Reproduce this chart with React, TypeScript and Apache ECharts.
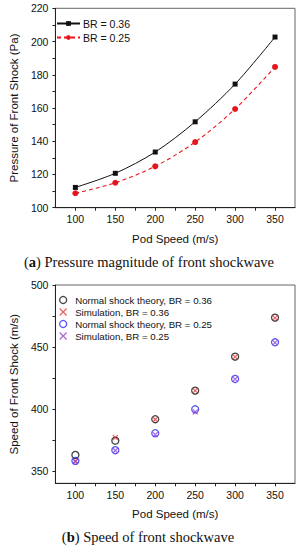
import React, { useEffect, useRef } from "react";
import * as echarts from "echarts";

const podSpeed = [100, 150, 200, 250, 300, 350];
const pressureBR036 = [112.2, 120.7, 133.5, 151.7, 174.4, 202.7];
const pressureBR025 = [108.7, 115.0, 124.9, 139.5, 159.4, 184.7];

const theoryBR036 = [362.9, 374.4, 391.7, 414.8, 442.2, 473.7];
const simBR036 = [358.0, 376.9, 391.5, 414.8, 442.0, 473.5];
const theoryBR025 = [358.1, 366.7, 380.4, 399.7, 424.2, 453.8];
const simBR025 = [357.5, 366.5, 379.3, 397.6, 424.0, 453.5];

const xLabels = [100, 150, 200, 250, 300, 350];
const xTicks = [100, 125, 150, 175, 200, 225, 250, 275, 300, 325, 350];
const yTopLabels = [100, 120, 140, 160, 180, 200, 220];
const yTopTicks = [100, 110, 120, 130, 140, 150, 160, 170, 180, 190, 200, 210, 220];
const yBotLabels = [350, 400, 450, 500];
const yBotTicks = [350, 375, 400, 425, 450, 475, 500];

const FONT = "Liberation Sans, Arial, sans-serif";
const AX = "#222";
const RED = "#e8141c";
const RED_X = "#e23a3a";
const BLUE = "#2a2af0";
const PURPLE = "#9a3ed0";
const CROSS = "path://M0,0L10,10M0,10L10,0";

const pair = (xs: number[], ys: number[]) => xs.map((x, i) => [x, ys[i]]);

export default function App() {
  const ref = useRef<HTMLDivElement>(null);
  useEffect(() => {
    if (!ref.current) return;
    const chart = echarts.init(ref.current, undefined, { renderer: "svg" });
    const xAxisBase = (gridIndex: number) => ({
      type: "value",
      gridIndex,
      min: 75,
      max: 375,
      name: "Pod Speed (m/s)",
      nameLocation: "middle",
      nameGap: 25,
      nameTextStyle: { fontFamily: FONT, fontSize: 11.5, color: "#111" },
      axisLine: { show: true, lineStyle: { color: AX, width: 1 } },
      axisTick: { show: true, inside: false, length: 3, customValues: xTicks, lineStyle: { color: AX } },
      axisLabel: { customValues: xLabels, margin: 6, fontFamily: FONT, fontSize: 10.5, color: "#111" },
      splitLine: { show: false },
    });
    const option: any = {
      animation: false,
      grid: [
        { left: 45, right: 3, top: 8.3, bottom: 342.3, show: true, borderColor: "#666", borderWidth: 1 },
        { left: 45, right: 3, top: 285, bottom: 66.7, show: true, borderColor: "#666", borderWidth: 1 },
      ],
      xAxis: [xAxisBase(0), xAxisBase(1)],
      yAxis: [
        {
          type: "value",
          gridIndex: 0,
          min: 100,
          max: 220,
          name: "Pressure of Front Shock (Pa)",
          nameLocation: "middle",
          nameGap: 33,
          nameTextStyle: { fontFamily: FONT, fontSize: 11.5, color: "#111" },
          axisLine: { show: true, lineStyle: { color: AX, width: 1 } },
          axisTick: { show: true, length: 3, customValues: yTopTicks, lineStyle: { color: AX } },
          axisLabel: { customValues: yTopLabels, margin: 7, fontFamily: FONT, fontSize: 10.5, color: "#111" },
          splitLine: { show: false },
        },
        {
          type: "value",
          gridIndex: 1,
          min: 340,
          max: 500,
          name: "Speed of Front Shock (m/s)",
          nameLocation: "middle",
          nameGap: 31,
          nameTextStyle: { fontFamily: FONT, fontSize: 11.5, color: "#111" },
          axisLine: { show: true, lineStyle: { color: AX, width: 1 } },
          axisTick: { show: true, length: 3, customValues: yBotTicks, lineStyle: { color: AX } },
          axisLabel: { customValues: yBotLabels, margin: 7, fontFamily: FONT, fontSize: 10.5, color: "#111" },
          splitLine: { show: false },
        },
      ],
      legend: [
        {
          orient: "vertical",
          left: 51,
          top: 13,
          itemWidth: 23,
          itemHeight: 6,
          itemGap: 3,
          textStyle: { fontFamily: FONT, fontSize: 10.5, color: "#111", padding: [0, 0, 0, -2] },
          data: ["BR = 0.36", "BR = 0.25"],
        },
        {
          orient: "vertical",
          left: 54,
          top: 290,
          itemWidth: 8,
          itemHeight: 7,
          itemGap: 2,
          textStyle: { fontFamily: FONT, fontSize: 9.7, color: "#111", padding: [0, 0, 0, 3] },
          data: [
            { name: "Normal shock theory, BR = 0.36", icon: "circle", itemStyle: { color: "transparent", borderColor: "#111", borderWidth: 1.3 } },
            { name: "Simulation, BR = 0.36", icon: CROSS, itemStyle: { color: "transparent", borderColor: RED_X, borderWidth: 1.2 } },
            { name: "Normal shock theory, BR = 0.25", icon: "circle", itemStyle: { color: "transparent", borderColor: BLUE, borderWidth: 1.3 } },
            { name: "Simulation, BR = 0.25", icon: CROSS, itemStyle: { color: "transparent", borderColor: PURPLE, borderWidth: 1.2 } },
          ],
        },
      ],
      series: [
        {
          name: "BR = 0.36",
          type: "line",
          xAxisIndex: 0,
          yAxisIndex: 0,
          data: pair(podSpeed, pressureBR036),
          smooth: 0.3,
          symbol: "rect",
          symbolSize: 5,
          lineStyle: { color: "#111", width: 1 },
          itemStyle: { color: "#111" },
        },
        {
          name: "BR = 0.25",
          type: "line",
          xAxisIndex: 0,
          yAxisIndex: 0,
          data: pair(podSpeed, pressureBR025),
          smooth: 0.3,
          symbol: "circle",
          symbolSize: 6,
          lineStyle: { color: RED, width: 1.1, type: [4, 3] },
          itemStyle: { color: RED },
        },
        {
          name: "Normal shock theory, BR = 0.36",
          type: "scatter",
          xAxisIndex: 1,
          yAxisIndex: 1,
          data: pair(podSpeed, theoryBR036),
          symbol: "circle",
          symbolSize: 7,
          itemStyle: { color: "transparent", borderColor: "#111", borderWidth: 1.3 },
        },
        {
          name: "Simulation, BR = 0.36",
          type: "scatter",
          xAxisIndex: 1,
          yAxisIndex: 1,
          data: pair(podSpeed, simBR036),
          symbol: CROSS,
          symbolSize: 5,
          itemStyle: { color: "transparent", borderColor: RED_X, borderWidth: 1.2 },
        },
        {
          name: "Normal shock theory, BR = 0.25",
          type: "scatter",
          xAxisIndex: 1,
          yAxisIndex: 1,
          data: pair(podSpeed, theoryBR025),
          symbol: "circle",
          symbolSize: 7,
          itemStyle: { color: "transparent", borderColor: BLUE, borderWidth: 1.3 },
        },
        {
          name: "Simulation, BR = 0.25",
          type: "scatter",
          xAxisIndex: 1,
          yAxisIndex: 1,
          data: pair(podSpeed, simBR025),
          symbol: CROSS,
          symbolSize: 5,
          itemStyle: { color: "transparent", borderColor: PURPLE, borderWidth: 1.2 },
        },
      ],
      graphic: [
        {
          type: "text",
          x: 149,
          y: 262,
          style: {
            text: "{p|(}{b|a}{p|) Pressure magnitude of front shockwave}",
            align: "center",
            verticalAlign: "middle",
            rich: {
              p: { fontFamily: "Liberation Serif, serif", fontSize: 14.5, fill: "#111" },
              b: { fontFamily: "Liberation Serif, serif", fontSize: 14.5, fontWeight: "bold", fill: "#111" },
            },
          },
        },
        {
          type: "text",
          x: 148,
          y: 537,
          style: {
            text: "{p|(}{b|b}{p|) Speed of front shockwave}",
            align: "center",
            verticalAlign: "middle",
            rich: {
              p: { fontFamily: "Liberation Serif, serif", fontSize: 14.5, fill: "#111" },
              b: { fontFamily: "Liberation Serif, serif", fontSize: 14.5, fontWeight: "bold", fill: "#111" },
            },
          },
        },
      ],
    };
    chart.setOption(option);
    return () => chart.dispose();
  }, []);
  return (
    <div
      ref={ref}
      style={{ position: "absolute", left: 0, top: 0, width: 298, height: 550, background: "#fff" }}
    />
  );
}
